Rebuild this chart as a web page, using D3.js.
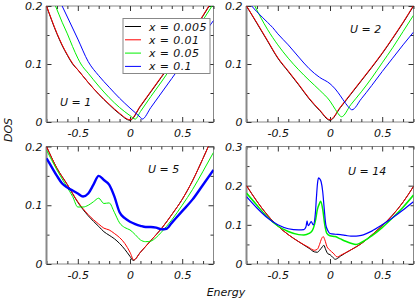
<!DOCTYPE html>
<html><head><meta charset="utf-8">
<script src="https://cdn.jsdelivr.net/npm/d3@7/dist/d3.min.js"></script>
<style>
body{margin:0;background:#fff}
svg text{font-family:"DejaVu Sans",sans-serif;font-style:italic;fill:#111}
</style>
</head><body>
<svg id="c" width="415" height="303"></svg>
<script>
// ---------------- DATA ----------------
const seriesNames = ["x = 0.005", "x = 0.01", "x = 0.05", "x = 0.1"];
const panelLabels = ["U = 1", "U = 2", "U = 5", "U = 14"];
const xDomain = [-0.8, 0.8];
const xMajorTicks = [-0.5, 0, 0.5];
const xTickLabels = ["-0.5", "0", "0.5"];
const yMax = [0.2, 0.2, 0.2, 0.3];
const yTicksA = [0, 0.1, 0.2];
const yTickLabelsA = ["0", "0.1", "0.2"];
const yTicksB = [0, 0.1, 0.2, 0.3];
const yTickLabelsB = ["0", "0.1", "0.2", "0.3"];

// U = 1
const u1Black = [[-0.8,0.2],[-0.75,0.175],[-0.7,0.152],[-0.65,0.132],[-0.6,0.115],[-0.55,0.1],[-0.5,0.09],[-0.4,0.068],[-0.3,0.048],[-0.2,0.03],[-0.1,0.014],[0,0.003],[0.1,0.027],[0.2,0.052],[0.3,0.077],[0.4,0.102],[0.5,0.128],[0.6,0.155],[0.7,0.183],[0.8,0.212]];
const u1Red = [[-0.8,0.2],[-0.75,0.176],[-0.7,0.153],[-0.65,0.133],[-0.6,0.116],[-0.55,0.101],[-0.5,0.09],[-0.4,0.068],[-0.3,0.048],[-0.2,0.031],[-0.1,0.015],[0,0.004],[0.1,0.028],[0.2,0.053],[0.3,0.078],[0.4,0.103],[0.5,0.129],[0.6,0.156],[0.7,0.184],[0.8,0.213]];
const u1Green = [[-0.75,0.215],[-0.714,0.2],[-0.65,0.172],[-0.6,0.152],[-0.55,0.13],[-0.5,0.11],[-0.47,0.1],[-0.4,0.084],[-0.3,0.062],[-0.2,0.042],[-0.1,0.025],[0,0.011],[0.05,0.005],[0.1,0.018],[0.2,0.044],[0.3,0.069],[0.4,0.095],[0.5,0.121],[0.6,0.148],[0.7,0.176],[0.8,0.204]];
const u1Blue = [[-0.68,0.212],[-0.65,0.2],[-0.6,0.181],[-0.5,0.143],[-0.4,0.104],[-0.3,0.08],[-0.2,0.06],[-0.1,0.041],[0,0.024],[0.1,0.008],[0.117,0.005],[0.2,0.025],[0.3,0.05],[0.4,0.075],[0.5,0.1],[0.6,0.125],[0.7,0.15],[0.8,0.175]];

// U = 2
const u2Black = [[-0.8,0.2],[-0.7,0.17],[-0.6,0.14],[-0.5,0.11],[-0.4,0.087],[-0.3,0.064],[-0.2,0.04],[-0.1,0.02],[0,0.003],[0.1,0.025],[0.2,0.048],[0.3,0.071],[0.4,0.094],[0.5,0.118],[0.6,0.144],[0.7,0.171],[0.8,0.2]];
const u2Red = [[-0.8,0.2],[-0.7,0.171],[-0.6,0.141],[-0.5,0.111],[-0.4,0.088],[-0.3,0.065],[-0.2,0.041],[-0.1,0.021],[0,0.004],[0.1,0.026],[0.2,0.049],[0.3,0.072],[0.4,0.095],[0.5,0.119],[0.6,0.145],[0.7,0.172],[0.8,0.201]];
const u2Green = [[-0.76,0.215],[-0.72,0.2],[-0.6,0.16],[-0.5,0.133],[-0.4,0.11],[-0.3,0.09],[-0.2,0.072],[-0.1,0.055],[0,0.036],[0.05,0.022],[0.1,0.01],[0.11,0.009],[0.2,0.03],[0.3,0.052],[0.4,0.076],[0.5,0.102],[0.6,0.128],[0.7,0.156],[0.8,0.184]];
const u2Blue = [[-0.8,0.212],[-0.75,0.2],[-0.7,0.19],[-0.6,0.172],[-0.55,0.163],[-0.5,0.152],[-0.4,0.133],[-0.3,0.112],[-0.2,0.092],[-0.1,0.077],[0,0.066],[0.05,0.057],[0.1,0.045],[0.15,0.032],[0.2,0.022],[0.21,0.021],[0.3,0.04],[0.4,0.063],[0.5,0.087],[0.6,0.11],[0.7,0.133],[0.8,0.155]];

// U = 5
const u5Black = [[-0.8,0.2],[-0.7,0.163],[-0.6,0.135],[-0.5,0.105],[-0.4,0.082],[-0.3,0.064],[-0.25,0.055],[-0.2,0.049],[-0.15,0.043],[-0.1,0.035],[-0.05,0.025],[0,0.013],[0.03,0.006],[0.1,0.02],[0.2,0.04],[0.3,0.06],[0.4,0.084],[0.5,0.11],[0.6,0.142],[0.7,0.18],[0.8,0.22]];
const u5Red = [[-0.8,0.2],[-0.7,0.163],[-0.6,0.135],[-0.5,0.106],[-0.4,0.084],[-0.3,0.068],[-0.25,0.061],[-0.2,0.058],[-0.15,0.052],[-0.1,0.045],[-0.05,0.035],[0,0.02],[0.036,0.007],[0.1,0.02],[0.2,0.04],[0.3,0.06],[0.4,0.084],[0.5,0.11],[0.6,0.142],[0.7,0.18],[0.8,0.22]];
const u5Green = [[-0.8,0.194],[-0.7,0.16],[-0.6,0.13],[-0.55,0.115],[-0.5,0.097],[-0.45,0.097],[-0.4,0.1],[-0.35,0.106],[-0.3,0.112],[-0.25,0.103],[-0.2,0.104],[-0.15,0.088],[-0.1,0.07],[-0.05,0.062],[0,0.058],[0.05,0.05],[0.1,0.041],[0.15,0.038],[0.2,0.039],[0.25,0.045],[0.3,0.054],[0.4,0.075],[0.5,0.1],[0.6,0.127],[0.7,0.158],[0.8,0.19]];
const u5Blue = [[-0.8,0.18],[-0.75,0.165],[-0.7,0.15],[-0.65,0.137],[-0.6,0.13],[-0.55,0.125],[-0.5,0.12],[-0.45,0.115],[-0.4,0.12],[-0.35,0.135],[-0.3,0.15],[-0.25,0.143],[-0.2,0.135],[-0.15,0.115],[-0.1,0.088],[-0.05,0.078],[0,0.072],[0.05,0.068],[0.1,0.065],[0.15,0.063],[0.2,0.063],[0.25,0.062],[0.3,0.059],[0.35,0.06],[0.4,0.07],[0.5,0.09],[0.6,0.11],[0.7,0.135],[0.8,0.16]];

// U = 14
const u14Black = [[-0.8,0.2],[-0.7,0.16],[-0.6,0.125],[-0.5,0.097],[-0.4,0.075],[-0.3,0.057],[-0.2,0.04],[-0.15,0.031],[-0.12,0.03],[-0.1,0.035],[-0.07,0.045],[-0.06,0.048],[-0.04,0.036],[-0.02,0.026],[0,0.024],[0.03,0.016],[0.05,0.012],[0.07,0.014],[0.1,0.02],[0.2,0.036],[0.3,0.052],[0.4,0.074],[0.5,0.098],[0.6,0.125],[0.7,0.158],[0.8,0.198]];
const u14Red = [[-0.8,0.2],[-0.7,0.16],[-0.6,0.125],[-0.5,0.097],[-0.4,0.075],[-0.3,0.057],[-0.2,0.042],[-0.15,0.035],[-0.12,0.038],[-0.1,0.05],[-0.08,0.065],[-0.065,0.07],[-0.05,0.062],[-0.03,0.045],[0,0.035],[0.03,0.028],[0.07,0.018],[0.1,0.022],[0.2,0.036],[0.3,0.052],[0.4,0.074],[0.5,0.098],[0.6,0.125],[0.7,0.158],[0.8,0.198]];
const u14Green = [[-0.8,0.181],[-0.7,0.15],[-0.6,0.12],[-0.5,0.097],[-0.4,0.083],[-0.3,0.075],[-0.25,0.074],[-0.2,0.078],[-0.17,0.085],[-0.14,0.11],[-0.12,0.14],[-0.1,0.155],[-0.09,0.16],[-0.07,0.14],[-0.05,0.1],[-0.03,0.078],[0,0.072],[0.05,0.07],[0.1,0.064],[0.15,0.058],[0.2,0.053],[0.25,0.05],[0.3,0.055],[0.4,0.072],[0.5,0.093],[0.6,0.118],[0.7,0.145],[0.8,0.176]];
const u14Blue = [[-0.8,0.172],[-0.7,0.143],[-0.6,0.118],[-0.5,0.1],[-0.4,0.09],[-0.3,0.087],[-0.25,0.088],[-0.23,0.095],[-0.22,0.11],[-0.21,0.098],[-0.2,0.1],[-0.18,0.108],[-0.16,0.1],[-0.14,0.13],[-0.13,0.17],[-0.12,0.205],[-0.11,0.22],[-0.1,0.218],[-0.085,0.21],[-0.07,0.185],[-0.055,0.14],[-0.04,0.1],[-0.02,0.085],[0,0.078],[0.05,0.076],[0.1,0.075],[0.15,0.073],[0.2,0.071],[0.25,0.071],[0.3,0.073],[0.4,0.084],[0.5,0.1],[0.6,0.118],[0.7,0.138],[0.8,0.159]];

const panelSeries = [
  [u1Black, u1Red, u1Green, u1Blue],
  [u2Black, u2Red, u2Green, u2Blue],
  [u5Black, u5Red, u5Green, u5Blue],
  [u14Black, u14Red, u14Green, u14Blue]
];

// ---------------- STYLE / LAYOUT ----------------
const colors = ["#000000", "#ff0000", "#00f000", "#0000ff"];
const widths = [
  [1, 1, 1, 1],
  [1, 1, 1, 1],
  [1, 1, 1, 2.4],
  [1, 1, 1.5, 1.2]
];
const layout = [
  {x: 46.5, y: 6, w: 167, h: 116, lx: 60, ly: 106},
  {x: 246.5, y: 6, w: 167, h: 116, lx: 350, ly: 33},
  {x: 46.5, y: 146.5, w: 167, h: 117.5, lx: 148, ly: 173},
  {x: 246.5, y: 146.5, w: 167, h: 117.5, lx: 348, ly: 175}
];
const frameColor = "#888";

const svg = d3.select("#c");

layout.forEach((L, pi) => {
  const g = svg.append("g").attr("transform", `translate(${L.x},${L.y})`);
  const x = d3.scaleLinear().domain(xDomain).range([0, L.w]);
  const y = d3.scaleLinear().domain([0, yMax[pi]]).range([L.h, 0]);
  const yT = pi === 3 ? yTicksB : yTicksA;
  const yTL = pi === 3 ? yTickLabelsB : yTickLabelsA;

  g.append("clipPath").attr("id", "clip" + pi)
    .append("rect").attr("width", L.w).attr("height", L.h);

  g.append("rect").attr("width", L.w).attr("height", L.h)
    .attr("fill", "none").attr("stroke", frameColor).attr("stroke-width", 1);

  const xMinor = x.ticks(16).filter(v => !xMajorTicks.some(m => Math.abs(m - v) < 1e-9));
  const yAll = y.ticks(yMax[pi] / 0.05);
  const yMinor = yAll.filter(v => !yT.some(m => Math.abs(m - v) < 1e-9));

  function tickAxis(axis, tr) {
    const a = g.append("g").attr("transform", tr).call(axis);
    a.select(".domain").remove();
    a.selectAll("line").attr("stroke", "#333");
    return a;
  }
  tickAxis(d3.axisBottom(x).tickValues(xMinor).tickSize(-3).tickFormat(""), `translate(0,${L.h})`);
  tickAxis(d3.axisTop(x).tickValues(xMinor).tickSize(-3).tickFormat(""), "translate(0,0)");
  tickAxis(d3.axisTop(x).tickValues(xMajorTicks).tickSize(-5).tickFormat(""), "translate(0,0)");
  const xb = tickAxis(d3.axisBottom(x).tickValues(xMajorTicks).tickSize(-5)
      .tickFormat((d, i) => xTickLabels[i]).tickPadding(7), `translate(0,${L.h})`);
  xb.selectAll("text").attr("font-size", 11).attr("fill", "#111")
    .style("font-family", '"DejaVu Sans",sans-serif').style("font-style", "italic");

  tickAxis(d3.axisLeft(y).tickValues(yMinor).tickSize(-3).tickFormat(""), "translate(0,0)");
  tickAxis(d3.axisRight(y).tickValues(yMinor).tickSize(-3).tickFormat(""), `translate(${L.w},0)`);
  tickAxis(d3.axisRight(y).tickValues(yT).tickSize(-5).tickFormat(""), `translate(${L.w},0)`);
  const yl = tickAxis(d3.axisLeft(y).tickValues(yT).tickSize(-5)
      .tickFormat((d, i) => yTL[i]).tickPadding(4), "translate(0,0)");
  yl.selectAll("text").attr("font-size", 11).attr("fill", "#111")
    .style("font-family", '"DejaVu Sans",sans-serif').style("font-style", "italic");

  g.append("line").attr("x1", 0).attr("x2", 0).attr("y1", 0).attr("y2", L.h)
    .attr("stroke", frameColor).attr("stroke-width", 2);

  const line = d3.line().x(d => x(d[0])).y(d => y(d[1])).curve(d3.curveMonotoneX);
  const cg = g.append("g").attr("clip-path", `url(#clip${pi})`);
  panelSeries[pi].forEach((s, si) => {
    cg.append("path").datum(s).attr("d", line)
      .attr("fill", "none").attr("stroke", colors[si])
      .attr("stroke-width", widths[pi][si]).attr("stroke-linejoin", "round");
  });

  svg.append("text").attr("x", L.lx).attr("y", L.ly).attr("font-size", 11)
    .text(panelLabels[pi]);
});

// legend
const lg = svg.append("g").attr("transform", "translate(123,18.5)");
lg.append("rect").attr("width", 87).attr("height", 55)
  .attr("fill", "#fff").attr("stroke", frameColor).attr("stroke-width", 1);
seriesNames.forEach((n, i) => {
  const yy = 8 + i * 13.3;
  lg.append("line").attr("x1", 2).attr("x2", 18).attr("y1", yy).attr("y2", yy)
    .attr("stroke", colors[i]).attr("stroke-width", 1);
  lg.append("text").attr("x", 26).attr("y", yy + 4).attr("font-size", 11)
    .attr("letter-spacing", 0.4).text(n);
});

// axis titles
svg.append("text").attr("transform", "translate(12,130) rotate(-90)")
  .attr("text-anchor", "middle").attr("font-size", 11).text("DOS");
svg.append("text").attr("x", 226).attr("y", 296)
  .attr("text-anchor", "middle").attr("font-size", 11).text("Energy");
</script>
</body></html>
